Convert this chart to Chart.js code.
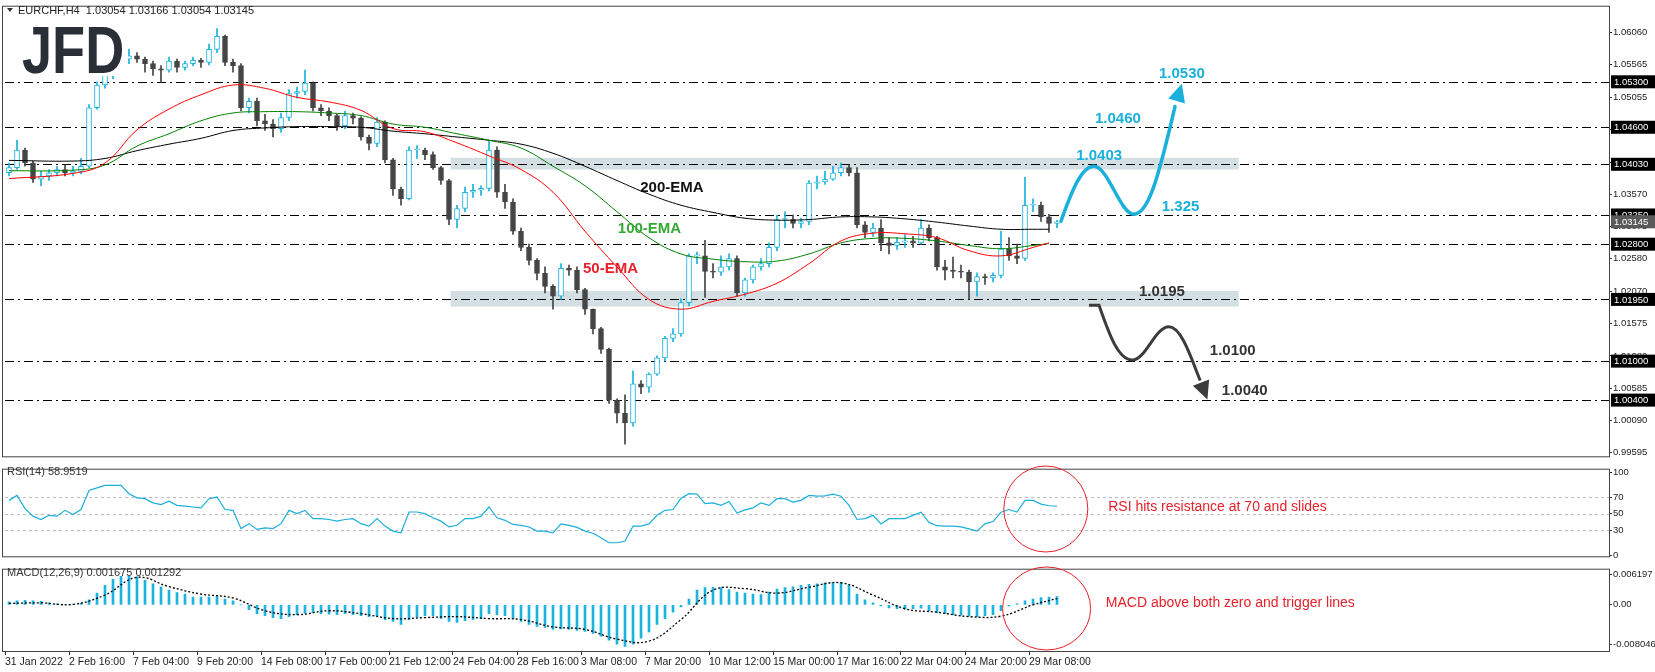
<!DOCTYPE html>
<html>
<head>
<meta charset="utf-8">
<script src="https://cdn.jsdelivr.net/npm/chart.js@4.4.1/dist/chart.umd.min.js"></script>
<style>
  body { margin: 0; background: #fff; width: 1655px; height: 672px; overflow: hidden; position: relative; }
  canvas { position: absolute; left: 0; }
</style>
</head>
<body>
<canvas id="main" width="1655" height="463" style="top:0"></canvas>
<canvas id="rsi" width="1655" height="100" style="top:463px"></canvas>
<canvas id="macd" width="1655" height="109" style="top:563px"></canvas>
<script>
// EURCHF H4, one slot = two 4h candles
const firstOpen = 1.0390;
const closes = [
  1.0398,1.0425,1.0405,1.0380,1.0385,1.0390,1.0395,1.0390,1.0392,1.0400,
  1.0490,1.0525,1.0540,1.0555,1.0565,1.0570,1.0565,1.0558,1.0550,1.0548,
  1.0562,1.0552,1.0558,1.0563,1.0560,1.0580,1.0600,1.0560,1.0555,1.0490,
  1.0500,1.0470,1.0465,1.0458,1.0475,1.0512,1.0515,1.0528,1.0490,1.0485,
  1.0478,1.0462,1.0478,1.0474,1.0445,1.0435,1.0468,1.0410,1.0365,1.0350,
  1.0425,1.0425,1.0418,1.0398,1.0378,1.0318,1.0335,1.0360,1.0363,1.0366,
  1.0425,1.0360,1.0345,1.0300,1.0275,1.0255,1.0235,1.0215,1.0200,1.0243,
  1.0240,1.0210,1.0180,1.0150,1.0118,1.0040,1.0020,1.0005,1.0065,1.0060,
  1.0080,1.0105,1.0135,1.0142,1.0190,1.0262,1.0262,1.0238,1.0237,1.0245,
  1.0258,1.0205,1.0225,1.0245,1.0250,1.0275,1.0318,1.0318,1.0312,1.0315,
  1.0374,1.0376,1.0380,1.0390,1.0398,1.0390,1.0310,1.0298,1.0305,1.0282,
  1.0278,1.0283,1.0285,1.0282,1.0305,1.0290,1.0245,1.0240,1.0238,1.0237,
  1.0222,1.0230,1.0228,1.0232,1.0273,1.0262,1.0258,1.0340,1.0340,1.0322,
  1.0312,1.03145
];
const highs = [
  1.0405,1.0440,1.0428,1.0408,1.0392,1.0395,1.0400,1.0402,1.0400,1.0412,
  1.0495,1.0530,1.0548,1.0560,1.0572,1.0580,1.0575,1.0568,1.0562,1.0555,
  1.0568,1.0565,1.0562,1.0568,1.0566,1.0588,1.0612,1.0602,1.0565,1.0558,
  1.0505,1.0505,1.0480,1.0472,1.0482,1.0518,1.0522,1.0548,1.0530,1.0495,
  1.0490,1.0480,1.0485,1.0482,1.0476,1.0448,1.0475,1.0470,1.0412,1.0368,
  1.0430,1.0432,1.0428,1.0422,1.0400,1.0380,1.0340,1.0368,1.0372,1.0370,
  1.0440,1.0430,1.0372,1.0350,1.0305,1.0280,1.0258,1.0245,1.0218,1.0250,
  1.0248,1.0245,1.0212,1.0180,1.0152,1.0120,1.0042,1.0048,1.0085,1.0070,
  1.0082,1.0108,1.0138,1.0150,1.0196,1.0265,1.0268,1.0286,1.0250,1.0262,
  1.0265,1.0262,1.0228,1.0248,1.0258,1.0282,1.0325,1.0330,1.0325,1.0320,
  1.0378,1.0385,1.0392,1.0400,1.0405,1.0402,1.0398,1.0315,1.0312,1.0318,
  1.0290,1.0290,1.0295,1.0292,1.0318,1.0310,1.0292,1.0255,1.0260,1.0248,
  1.0240,1.0236,1.0234,1.0236,1.0300,1.0290,1.0280,1.0383,1.0350,1.0345,
  1.0326,1.03166
];
const lows = [
  1.0385,1.0395,1.0400,1.0375,1.0370,1.0378,1.0385,1.0385,1.0385,1.0388,
  1.0398,1.0488,1.0520,1.0535,1.0550,1.0558,1.0560,1.0545,1.0540,1.0529,
  1.0545,1.0545,1.0548,1.0555,1.0552,1.0556,1.0575,1.0555,1.0545,1.0485,
  1.0482,1.0462,1.0455,1.0445,1.0452,1.0470,1.0505,1.0510,1.0485,1.0478,
  1.0470,1.0455,1.0458,1.0465,1.0440,1.0425,1.0430,1.0405,1.0355,1.0340,
  1.0348,1.0412,1.0410,1.0395,1.0372,1.0310,1.0305,1.0330,1.0352,1.0355,
  1.0362,1.0352,1.0335,1.0295,1.0270,1.0248,1.0225,1.0205,1.0180,1.0195,
  1.0232,1.0205,1.0172,1.0142,1.0112,1.0035,1.0005,0.9972,1.0000,1.0050,
  1.0052,1.0078,1.0100,1.0130,1.0138,1.0185,1.0250,1.0198,1.0228,1.0232,
  1.0240,1.0200,1.0200,1.0220,1.0240,1.0245,1.0270,1.0305,1.0305,1.0305,
  1.0310,1.0365,1.0372,1.0378,1.0385,1.0385,1.0305,1.0290,1.0292,1.0270,
  1.0265,1.0272,1.0275,1.0275,1.0280,1.0285,1.0240,1.0225,1.0228,1.0228,
  1.0195,1.0200,1.0218,1.0222,1.0228,1.0255,1.0250,1.0255,1.0330,1.0315,
  1.0298,1.03054
];

const emaSlots = [0,8,12,16,20,24,28,32,36,40,44,48,52,56,60,64,68,72,76,80,84,88,92,96,100,104,108,112,116,120,124,128,130];
const ema50 = [1.0381,1.0389,1.0405,1.0456,1.0488,1.0510,1.0525,1.0520,1.0506,1.0499,1.0486,1.0458,1.0453,1.0436,1.0416,1.0395,1.0360,1.0300,1.0245,1.0195,1.0180,1.0192,1.0203,1.0220,1.0250,1.0285,1.0297,1.0296,1.0290,1.0270,1.0262,1.0275,1.0282];
const ema100 = [1.0393,1.0394,1.0402,1.0431,1.0450,1.0470,1.0482,1.0484,1.0484,1.0482,1.0478,1.0465,1.0460,1.0450,1.0440,1.0428,1.0400,1.0370,1.0330,1.0290,1.0265,1.0257,1.0253,1.0254,1.0265,1.0282,1.0289,1.0289,1.0285,1.0278,1.0273,1.0278,1.0281];
const ema200 = [1.0409,1.0408,1.0412,1.0424,1.0434,1.0443,1.0455,1.0459,1.0461,1.0461,1.0460,1.0454,1.0450,1.0445,1.0440,1.0434,1.0420,1.0400,1.0378,1.0357,1.0340,1.0329,1.0320,1.0317,1.0318,1.0322,1.0322,1.0319,1.0314,1.0308,1.0303,1.0303,1.0303];

const rsi = [
  66,72,56,47,43,48,47,54,49,55,78,81,84,84,84,74,69,68,63,61,
  65,60,59,58,57,68,70,55,54,32,38,31,33,32,38,54,50,54,44,44,
  43,41,43,44,38,35,44,35,29,27,52,52,50,45,41,34,36,44,44,47,
  58,45,42,37,36,34,29,29,27,37.7,36,33.5,29,26.5,21,15,15,17,35,35,
  37.7,48,54,55,68.5,74,73.5,62,63,60,64.7,50.7,54.5,57,63,60,68,68,64,66,
  72,71,71.4,73.5,71,60,43,44,48,37.7,44,44,44,48,51.7,39.5,35.5,35,35,34,
  31.7,29,37.7,40.5,51.7,55,52,66,66,61.5,59.5,58.95
];
const macdHist = [
  0.0006,0.0008,0.0009,0.0008,0.0007,0.0004,0.0002,0.0001,0.0001,0.0003,
  0.0010,0.0024,0.0040,0.0052,0.0058,0.0058,0.0057,0.0050,0.0043,0.0037,
  0.0030,0.0025,0.0022,0.0016,0.0016,0.0016,0.0018,0.0012,0.0008,0.0000,
  -0.0010,-0.0018,-0.0022,-0.0026,-0.0028,-0.0024,-0.0020,-0.0017,-0.0016,-0.0018,
  -0.0019,-0.0020,-0.0018,-0.0020,-0.0022,-0.0024,-0.0023,-0.0030,-0.0034,-0.0040,
  -0.0030,-0.0025,-0.0022,-0.0022,-0.0028,-0.0034,-0.0036,-0.0032,-0.0030,-0.0028,
  -0.0018,-0.0020,-0.0022,-0.0028,-0.0034,-0.0040,-0.0044,-0.0046,-0.0050,-0.0049,
  -0.0050,-0.0052,-0.0054,-0.0058,-0.0064,-0.0072,-0.0080,-0.0085,-0.0080,-0.0068,
  -0.0055,-0.0040,-0.0028,-0.0015,-0.0004,0.0012,0.0030,0.0035,0.0036,0.0035,
  0.0031,0.0026,0.0024,0.0022,0.0021,0.0026,0.0032,0.0035,0.0037,0.0040,
  0.0042,0.0043,0.0045,0.0046,0.0046,0.0040,0.0022,0.0010,0.0004,-0.0002,
  -0.0006,-0.0008,-0.0009,-0.0008,-0.0007,-0.0012,-0.0016,-0.0018,-0.0020,-0.0021,
  -0.0023,-0.0024,-0.0022,-0.0020,-0.0012,-0.0002,0.0002,0.0008,0.0012,0.0015,
  0.0016,0.001675
];
const sigSlots = [0,4,8,12,16,20,24,28,32,36,40,44,48,52,56,60,64,68,72,76,80,84,88,92,96,100,104,108,112,116,120,124,128,131];
const macdSignal = [0.0003,0.0004,0.0001,0.0020,0.0056,0.0037,0.0022,0.0014,-0.0012,-0.0020,-0.0012,-0.0018,-0.0028,-0.0026,-0.0024,-0.0028,-0.0030,-0.0045,-0.0050,-0.0070,-0.0074,-0.0030,0.0030,0.0033,0.0024,0.0036,0.0045,0.0020,-0.0008,-0.0015,-0.0024,-0.0023,0.0000,0.001292];

const dateLabels = ['31 Jan 2022','2 Feb 16:00','7 Feb 04:00','9 Feb 20:00','14 Feb 08:00','17 Feb 00:00','21 Feb 12:00','24 Feb 04:00','28 Feb 16:00','3 Mar 08:00','7 Mar 20:00','10 Mar 12:00','15 Mar 00:00','17 Mar 16:00','22 Mar 04:00','24 Mar 20:00','29 Mar 08:00'];
const priceTicks = [1.06060,1.05565,1.05055,1.04560,1.04065,1.03570,1.03075,1.02580,1.02070,1.01575,1.01080,1.00585,1.00090,0.99595];
const levels = [1.0530,1.0460,1.0403,1.0325,1.0280,1.0195,1.0100,1.0040];
const bands = [[1.0395,1.0413],[1.0184,1.0208]];
const rsiLevels = [30,50,70];
const macdTicks = [0.006197,0,-0.008046];

const opens = closes.map((c, i) => i === 0 ? firstOpen : closes[i - 1]);
const bull = i => closes[i] >= opens[i];
const CYAN = '#19b2de', DARK = '#444444';
const FONT = '"Liberation Sans", Arial, sans-serif';
const AXF = { family: FONT, size: 9.5 };

const xAxis = (showLabels) => ({
  type: 'linear', min: -0.5, max: 200, offset: false,
  display: showLabels,
  afterBuildTicks: s => { s.ticks = dateLabels.map((_, k) => ({ value: -0.5 + 8 * k })); },
  afterFit: s => { if (showLabels) s.height = 21; },
  ticks: {
    autoSkip: false, maxRotation: 0, align: 'start', padding: 1,
    color: '#222', font: { family: FONT, size: 10.5 },
    callback: (v, i) => dateLabels[i]
  },
  grid: { drawOnChartArea: false, drawTicks: true, tickLength: 4, color: '#333', offset: false },
  border: { color: '#333' }
});
const yAxis = (min, max, tickVals, fmt) => ({
  position: 'right', min, max,
  afterBuildTicks: s => { s.ticks = tickVals.map(v => ({ value: v })); },
  afterFit: s => { s.width = 46; },
  ticks: { autoSkip: false, padding: 1, color: '#222', font: AXF, callback: fmt },
  grid: { drawOnChartArea: false, tickLength: 3, color: '#333' },
  border: { color: '#333' }
});
const baseOpts = (padding) => ({
  responsive: false, animation: false, devicePixelRatio: 1,
  layout: { padding },
  plugins: { legend: { display: false }, tooltip: { enabled: false } }
});

function frame(chart) {
  const { ctx, chartArea: a } = chart;
  ctx.save();
  ctx.strokeStyle = '#444';
  ctx.lineWidth = 1;
  ctx.strokeRect(Math.round(a.left) - 2.5, a.top - 0.5, a.right - a.left + 3, a.bottom - a.top + 1);
  ctx.restore();
}
function arrowHead(ctx, from, tip, size, color) {
  const ang = Math.atan2(tip[1] - from[1], tip[0] - from[0]);
  ctx.save();
  ctx.fillStyle = color;
  ctx.beginPath();
  ctx.moveTo(tip[0], tip[1]);
  ctx.lineTo(tip[0] - size * Math.cos(ang - 0.45), tip[1] - size * Math.sin(ang - 0.45));
  ctx.lineTo(tip[0] - size * Math.cos(ang + 0.45), tip[1] - size * Math.sin(ang + 0.45));
  ctx.closePath();
  ctx.fill();
  ctx.restore();
}

const mainOverlay = {
  id: 'mainOverlay',
  beforeDatasetsDraw(chart) {
    const { ctx, chartArea: a, scales: { x, y } } = chart;
    ctx.save();
    ctx.fillStyle = '#d3dfe3';
    bands.forEach(b => {
      const x0 = x.getPixelForValue(55.2), x1 = x.getPixelForValue(153.7);
      const y0 = y.getPixelForValue(b[1]), y1 = y.getPixelForValue(b[0]);
      ctx.fillRect(x0, y0, x1 - x0, y1 - y0);
    });
    ctx.strokeStyle = '#000';
    ctx.lineWidth = 1;
    ctx.setLineDash([9, 4, 2, 4]);
    levels.forEach(l => {
      const py = Math.round(y.getPixelForValue(l)) + 0.5;
      ctx.beginPath(); ctx.moveTo(a.left, py); ctx.lineTo(a.right, py); ctx.stroke();
    });
    ctx.restore();
  },
  afterDatasetsDraw(chart) {
    const { ctx, scales: { x, y } } = chart;
    const P = (s, v) => [x.getPixelForValue(s), y.getPixelForValue(v)];
    ctx.save();
    // bullish path
    let pts = [[131.5,1.03156],[132.9,1.03638],[134.1,1.0400],[135.6,1.0400],[137.4,1.0400],[138.9,1.03262],[140.6,1.03262],[142.4,1.03262],[143.6,1.03789],[145.75,1.04919]].map(p => P(p[0], p[1]));
    ctx.strokeStyle = '#1ab0dc'; ctx.lineWidth = 3.5; ctx.lineCap = 'round';
    ctx.beginPath(); ctx.moveTo(...pts[0]);
    ctx.bezierCurveTo(...pts[1], ...pts[2], ...pts[3]);
    ctx.bezierCurveTo(...pts[4], ...pts[5], ...pts[6]);
    ctx.bezierCurveTo(...pts[7], ...pts[8], ...pts[9]);
    ctx.stroke();
    arrowHead(ctx, pts[9], P(146.6, 1.0527), 20, '#1ab0dc');
    // bearish path
    pts = [[135,1.0186],[136.25,1.0186],[137.4,1.01454],[138.6,1.01017],[140.4,1.01017],[142.1,1.01017],[143.25,1.01529],[145,1.01529],[146.6,1.01529],[147.9,1.01002],[148.9,1.00701]].map(p => P(p[0], p[1]));
    ctx.strokeStyle = '#3c3c3c'; ctx.lineWidth = 3; ctx.lineCap = 'butt';
    ctx.beginPath(); ctx.moveTo(...pts[0]); ctx.lineTo(...pts[1]);
    ctx.bezierCurveTo(...pts[2], ...pts[3], ...pts[4]);
    ctx.bezierCurveTo(...pts[5], ...pts[6], ...pts[7]);
    ctx.bezierCurveTo(...pts[8], ...pts[9], ...pts[10]);
    ctx.stroke();
    arrowHead(ctx, pts[10], P(149.8, 1.0041), 20, '#3c3c3c');
    // labels
    ctx.font = 'bold 15px ' + FONT;
    ctx.textBaseline = 'middle';
    const label = (t, s, v, c) => { ctx.fillStyle = c; const p = P(s, v); ctx.fillText(t, p[0], p[1]); };
    label('1.0530', 143.75, 1.05416, '#1ab0dc');
    label('1.0460', 135.75, 1.04737, '#1ab0dc');
    label('1.0403', 133.4, 1.04164, '#1ab0dc');
    label('1.325', 144.1, 1.03382, '#1ab0dc');
    label('1.0195', 141.25, 1.02071, '#333');
    label('1.0100', 150.1, 1.01152, '#333');
    label('1.0040', 151.6, 1.00549, '#333');
    label('200-EMA', 78.9, 1.03669, '#111');
    label('100-EMA', 76.1, 1.03036, '#35a835');
    label('50-EMA', 71.75, 1.02418, '#e8202a');
    ctx.restore();
  },
  afterDraw(chart) {
    const { ctx, chartArea: a, scales: { y } } = chart;
    frame(chart);
    ctx.save();
    // logo
    ctx.fillStyle = '#fff';
    ctx.fillRect(20, 22, 108, 54);
    const g = ctx.createLinearGradient(0, 25, 0, 73);
    g.addColorStop(0, '#2a2f37'); g.addColorStop(1, '#4d525a');
    ctx.fillStyle = g;
    ctx.font = 'bold 66px ' + FONT;
    ctx.textBaseline = 'alphabetic';
    ctx.save(); ctx.translate(22, 73); ctx.scale(0.82, 1); ctx.fillText('JFD', 0, 0); ctx.restore();
    // title
    ctx.fillStyle = '#333';
    ctx.beginPath(); ctx.moveTo(7, 8); ctx.lineTo(13, 8); ctx.lineTo(10, 12); ctx.closePath(); ctx.fill();
    ctx.fillStyle = '#222';
    ctx.font = '11px ' + FONT;
    ctx.textBaseline = 'middle';
    ctx.fillText('EURCHF,H4  1.03054 1.03166 1.03054 1.03145', 18, 10.5);
    // axis price boxes
    ctx.font = '9.5px ' + FONT;
    ctx.textAlign = 'left';
    const box = (v, bg) => {
      const py = y.getPixelForValue(v);
      ctx.fillStyle = bg; ctx.fillRect(a.right + 2, py - 6.5, 46, 13);
      ctx.fillStyle = '#fff'; ctx.fillText(v.toFixed(5), a.right + 5, py + 0.5);
    };
    levels.forEach(l => box(l, '#000'));
    box(closes[closes.length - 1], '#5a5a5a');
    ctx.restore();
  }
};

new Chart(document.getElementById('main'), {
  data: {
    datasets: [
      { type: 'line', data: emaSlots.map((s, i) => ({ x: s, y: ema50[i] })), borderColor: '#ff0000', borderWidth: 1, pointRadius: 0, tension: 0.4, order: 0 },
      { type: 'line', data: emaSlots.map((s, i) => ({ x: s, y: ema100[i] })), borderColor: '#008000', borderWidth: 1, pointRadius: 0, tension: 0.4, order: 0 },
      { type: 'line', data: emaSlots.map((s, i) => ({ x: s, y: ema200[i] })), borderColor: '#000000', borderWidth: 1, pointRadius: 0, tension: 0.4, order: 0 },
      { type: 'bar', data: closes.map((c, i) => ({ x: i, y: [opens[i], c] })), grouped: false, barThickness: 5, minBarLength: 1,
        backgroundColor: c => bull(c.dataIndex) ? '#ffffff' : DARK,
        borderColor: c => bull(c.dataIndex) ? CYAN : DARK, borderWidth: 1, borderSkipped: false, order: 1 },
      { type: 'bar', data: closes.map((c, i) => ({ x: i, y: [lows[i], highs[i]] })), grouped: false, barThickness: 1,
        backgroundColor: c => bull(c.dataIndex) ? CYAN : DARK, order: 2 }
    ]
  },
  options: Object.assign(baseOpts({ left: 5, right: 0, top: 3, bottom: 1 }), {
    scales: {
      x: xAxis(false),
      y: yAxis(0.99535, 1.06456, priceTicks, v => v.toFixed(5))
    }
  }),
  plugins: [mainOverlay]
});

new Chart(document.getElementById('rsi'), {
  type: 'line',
  data: { datasets: [{ data: rsi.map((v, i) => ({ x: i, y: v })), borderColor: '#1aafdc', borderWidth: 1.2, pointRadius: 0 }] },
  options: Object.assign(baseOpts({ left: 5, right: 0, top: 2, bottom: 1 }), {
    scales: { x: xAxis(false), y: yAxis(-1.3, 102.9, [100, 70, 50, 30, 0], v => String(v)) }
  }),
  plugins: [{
    id: 'rsiOverlay',
    beforeDatasetsDraw(chart) {
      const { ctx, chartArea: a, scales: { y } } = chart;
      ctx.save();
      ctx.strokeStyle = '#bdbdbd'; ctx.setLineDash([3, 3]); ctx.lineWidth = 1;
      rsiLevels.forEach(l => { const py = Math.round(y.getPixelForValue(l)) + 0.5; ctx.beginPath(); ctx.moveTo(a.left, py); ctx.lineTo(a.right, py); ctx.stroke(); });
      ctx.restore();
    },
    afterDraw(chart) {
      const { ctx, scales: { x, y } } = chart;
      frame(chart);
      ctx.save();
      ctx.strokeStyle = '#e8202a'; ctx.lineWidth = 1;
      ctx.beginPath(); ctx.ellipse(x.getPixelForValue(129.6), y.getPixelForValue(55.6), 42, 43, 0, 0, Math.PI * 2); ctx.stroke();
      ctx.fillStyle = '#e8202a'; ctx.font = '14px ' + FONT; ctx.textBaseline = 'middle';
      ctx.fillText('RSI hits resistance at 70 and slides', x.getPixelForValue(137.4), y.getPixelForValue(57.7));
      ctx.fillStyle = '#333'; ctx.font = '11px ' + FONT;
      ctx.fillText('RSI(14) 58.9519', 7, 9);
      ctx.restore();
    }
  }]
});

new Chart(document.getElementById('macd'), {
  data: {
    datasets: [
      { type: 'line', data: sigSlots.map((s, i) => ({ x: s, y: macdSignal[i] })), borderColor: '#000', borderWidth: 1.3, borderDash: [2, 2], pointRadius: 0, tension: 0.4, order: 0 },
      { type: 'bar', data: macdHist.map((v, i) => ({ x: i, y: v })), backgroundColor: '#1ab4e0', barThickness: 2, order: 1 }
    ]
  },
  options: Object.assign(baseOpts({ left: 5, right: 0, top: 3, bottom: 0 }), {
    scales: {
      x: xAxis(true),
      y: yAxis(-0.00941, 0.00717, macdTicks, v => v === 0 ? '0.00' : String(v))
    }
  }),
  plugins: [{
    id: 'macdOverlay',
    afterDraw(chart) {
      const { ctx, scales: { x, y } } = chart;
      frame(chart);
      ctx.save();
      ctx.strokeStyle = '#e8202a'; ctx.lineWidth = 1;
      ctx.beginPath(); ctx.ellipse(x.getPixelForValue(129.7), y.getPixelForValue(-0.00074), 44, 41.5, 0, 0, Math.PI * 2); ctx.stroke();
      ctx.fillStyle = '#e8202a'; ctx.font = '14px ' + FONT; ctx.textBaseline = 'middle';
      ctx.fillText('MACD above both zero and trigger lines', x.getPixelForValue(137.1), y.getPixelForValue(0.00033));
      ctx.fillStyle = '#333'; ctx.font = '11px ' + FONT;
      ctx.fillText('MACD(12,26,9) 0.001675 0.001292', 7, 10);
      ctx.restore();
    }
  }]
});
</script>
</body>
</html>
